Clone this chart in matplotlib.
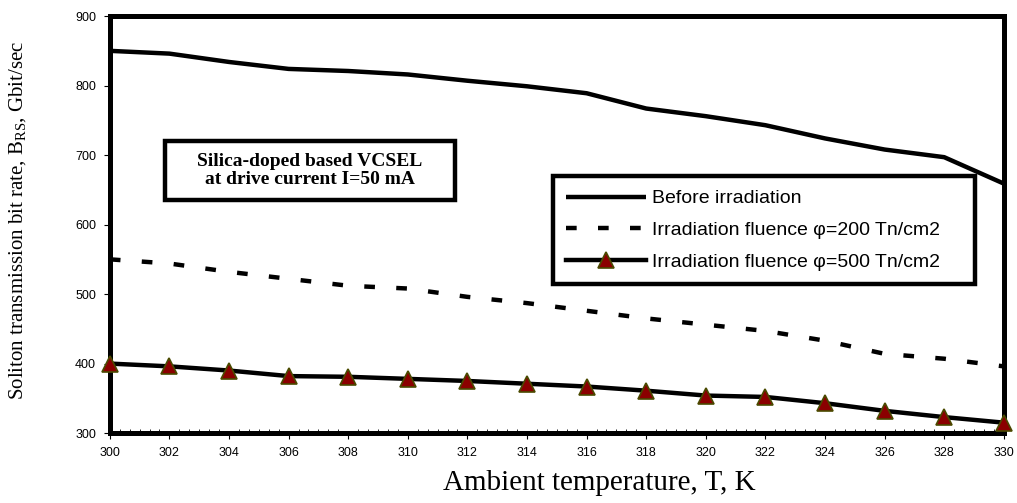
import matplotlib
matplotlib.use('Agg')
import matplotlib.pyplot as plt
from matplotlib.patches import Rectangle
from matplotlib.ticker import MultipleLocator

# temperatures, K
temps = [300, 302, 304, 306, 308, 310, 312, 314, 316, 318, 320, 322, 324, 326, 328, 330]

# bit rate, Gbit/sec
before_irr = [850, 846, 834, 824, 821, 816, 807, 799, 789, 767, 756, 743, 724, 708, 697, 659]
fluence_200 = [550, 544, 532, 522, 512, 508, 496, 487, 476, 465, 456, 447, 433, 414, 407, 396]
fluence_500 = [400, 396, 390, 382, 381, 378, 375, 371, 367, 361, 354, 352, 343, 332, 323, 315]

series_labels = ['Before irradiation',
                 'Irradiation fluence \u03c6=200 Tn/cm2',
                 'Irradiation fluence \u03c6=500 Tn/cm2']

y_ticks = [300, 400, 500, 600, 700, 800, 900]

sans = 'Liberation Sans'
serif = 'Liberation Serif'

fig = plt.figure(figsize=(10.17, 5.03), dpi=100)
ax = fig.add_axes([0.108, 0.139, 0.879, 0.829])

ax.plot(temps, before_irr, color='black', lw=3.2, label=series_labels[0],
        solid_capstyle='butt', solid_joinstyle='round')
ax.plot(temps, fluence_200, color='black', lw=3.2, label=series_labels[1],
        dashes=(2.4, 4.8), dash_capstyle='butt')
ax.plot(temps, fluence_500, color='black', lw=3.2, label=series_labels[2],
        marker='^', markersize=11, markerfacecolor='#8b0000',
        markeredgecolor='#4a4a00', markeredgewidth=1.2, clip_on=False, zorder=5)

ax.set_xlim(300, 330)
ax.set_ylim(300, 900)
ax.set_xticks(temps)
ax.set_yticks(y_ticks)
ax.xaxis.set_minor_locator(MultipleLocator(1 / 3))

for lbl in ax.get_xticklabels() + ax.get_yticklabels():
    lbl.set_fontfamily(sans)
    lbl.set_fontsize(9)

ax.tick_params(axis='both', which='major', direction='out', length=4, width=0.8, pad=6)
ax.tick_params(axis='x', which='minor', direction='in', length=3, width=0.6)

for sp in ax.spines.values():
    sp.set_linewidth(3.6)
    sp.set_color('black')

ax.set_xlabel('Ambient temperature, T, K', family=serif, fontsize=21)
ax.xaxis.set_label_coords(0.548, -0.12)
ax.xaxis.label.set_va('center')
ax.set_ylabel(r'Soliton transmission bit rate, B$_\mathregular{RS}$, Gbit/sec',
              family=serif, fontsize=15)
ax.yaxis.set_label_coords(-0.102, 0.51)
ax.yaxis.label.set_va('center')

# annotation box
ax.add_patch(Rectangle((0.0615, 0.5588), 0.3245, 0.1412, transform=ax.transAxes,
                       facecolor='white', edgecolor='black', linewidth=3.2, zorder=6))
ax.text(0.2237, 0.6295, 'Silica-doped based VCSEL\nat drive current I=50 mA',
        transform=ax.transAxes, ha='center', va='center', family=serif,
        fontsize=14, fontweight='bold', linespacing=1.1, zorder=7)

leg = ax.legend(loc='upper left', bbox_to_anchor=(0.4955, 0.616, 0.472, 0.0),
                mode='expand', prop={'family': sans, 'size': 14},
                handlelength=4.1, handletextpad=0.3, labelspacing=0.72,
                borderpad=0.7, borderaxespad=0, fancybox=False, framealpha=1)
leg.get_frame().set_edgecolor('black')
leg.get_frame().set_linewidth(3.2)
leg.set_zorder(8)

fig.savefig('out.png', dpi=100)
